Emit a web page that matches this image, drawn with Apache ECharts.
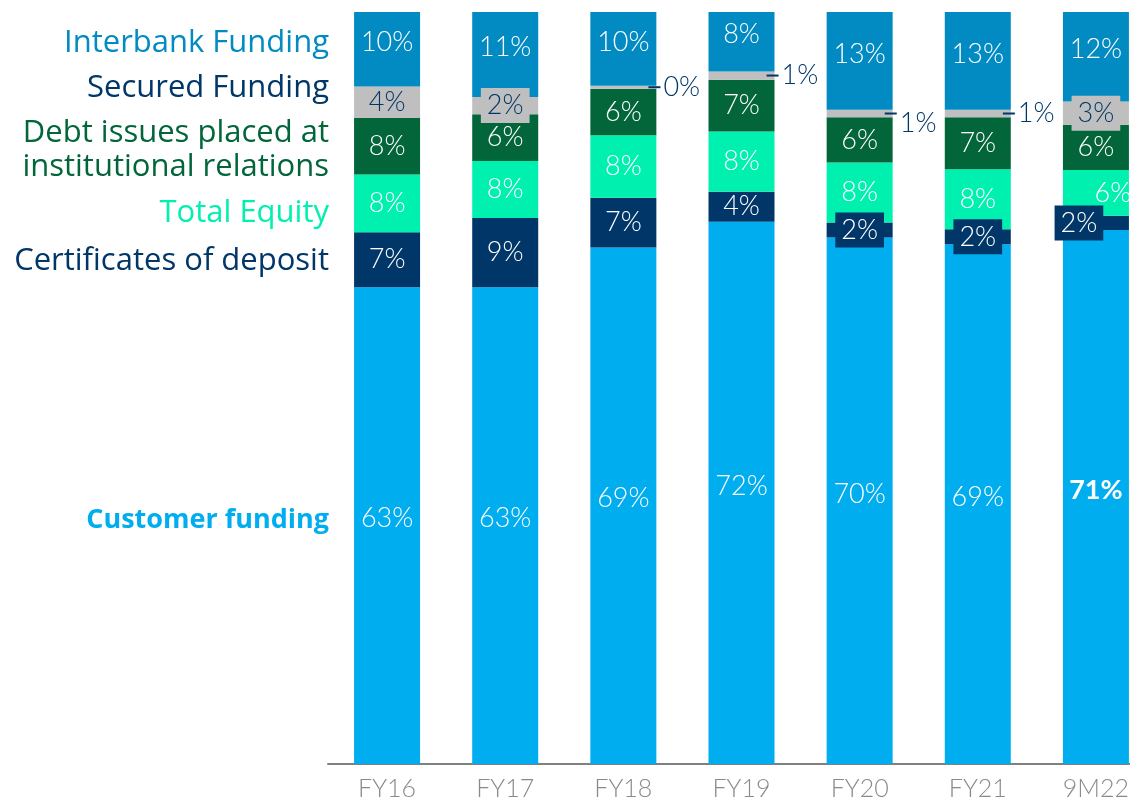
<!DOCTYPE html>
<html>
<head>
<meta charset="utf-8">
<title>Funding structure</title>
<script src="https://cdn.jsdelivr.net/npm/echarts@6/dist/echarts.min.js"></script>
<style>
  html, body { margin: 0; padding: 0; background: #ffffff; overflow: hidden; }
  /* the last column runs past the right edge of the page */
  #chart { width: 1155px; height: 801px; }
</style>
</head>
<body>
<div id="chart"></div>
<script>
// Funding mix by period, share of total (%)
const periods = ['FY16', 'FY17', 'FY18', 'FY19', 'FY20', 'FY21', '9M22'];

const customerFunding = [63.4, 63.4, 68.7, 72.1, 70.0, 69.1, 71.0];
const certificatesOfDeposit = [7.3, 9.2, 6.6, 4.0, 2.0, 2.0, 1.9];
const totalEquity = [7.7, 7.6, 8.3, 8.0, 8.0, 8.0, 6.1];
const debtIssues = [7.5, 6.2, 6.2, 6.9, 6.0, 6.9, 6.0];
const securedFunding = [4.2, 2.3, 0.4, 1.1, 1.0, 1.0, 3.1];
const interbankFunding = [9.9, 11.3, 9.8, 7.9, 13.0, 13.0, 11.9];

const seriesNames = [
  'Customer funding',
  'Certificates of deposit',
  'Total Equity',
  'Debt issues placed at\ninstitutional relations',
  'Secured Funding',
  'Interbank Funding'
];

const C_CUSTOMER = '#00adef';
const C_CD = '#003768';
const C_EQUITY = '#00f0b0';
const C_DEBT = '#03663a';
const C_SECURED = '#bfbfbf';
const C_INTERBANK = '#018bc2';

const FONT = 'Lato, "Noto Sans", sans-serif';
const SIDE_FONT = '"Open Sans", "Noto Sans", sans-serif';
const LABEL_SIZE = 27;

const pct = v => Math.round(v) + '%';

function baseLabel(color, extra) {
  return Object.assign({
    show: true,
    position: 'inside',
    color: color,
    fontFamily: FONT,
    fontWeight: 300,
    fontSize: LABEL_SIZE,
    formatter: p => pct(p.value)
  }, extra || {});
}

// Per-bar label overrides (index -> label options)
function withLabels(values, overrides) {
  return values.map((v, i) => overrides[i] ? { value: v, label: overrides[i] } : v);
}

const boxPad = [5, 6, 3, 6];

// Small segments: value placed beside the bar behind a short leader dash
function outsideDash(dy) {
  return {
    position: ['88%', '50%'],
    align: 'left',
    verticalAlign: 'middle',
    formatter: p => '{d|}{v|' + pct(p.value) + '}',
    rich: {
      d: { width: 12, height: 2, backgroundColor: C_CD },
      v: {
        color: C_CD, fontFamily: FONT, fontWeight: 300, fontSize: LABEL_SIZE,
        padding: [dy, 0, 0, 3]
      }
    }
  };
}

const series = [
  {
    name: seriesNames[0],
    color: C_CUSTOMER,
    data: withLabels(customerFunding, {
      6: { fontWeight: 'bold' }
    }),
    label: baseLabel('#ffffff', { offset: [0, -7] })
  },
  {
    name: seriesNames[1],
    color: C_CD,
    data: withLabels(certificatesOfDeposit, {
      4: { backgroundColor: C_CD, padding: boxPad },
      5: { backgroundColor: C_CD, padding: boxPad },
      6: { backgroundColor: C_CD, padding: boxPad, offset: [-17, 0] }
    }),
    label: baseLabel('#ffffff')
  },
  {
    name: seriesNames[2],
    color: C_EQUITY,
    data: withLabels(totalEquity, {
      6: { offset: [17, 0] }
    }),
    label: baseLabel('#ffffff')
  },
  {
    name: seriesNames[3],
    color: C_DEBT,
    data: debtIssues,
    label: baseLabel('#ffffff')
  },
  {
    name: seriesNames[4],
    color: C_SECURED,
    data: withLabels(securedFunding, {
      1: { backgroundColor: C_SECURED, padding: boxPad },
      2: outsideDash(0),
      3: outsideDash(0),
      4: outsideDash(20),
      5: outsideDash(0),
      6: { backgroundColor: C_SECURED, padding: boxPad }
    }),
    label: baseLabel(C_CD)
  },
  {
    name: seriesNames[5],
    color: C_INTERBANK,
    data: interbankFunding,
    label: baseLabel('#ffffff', { offset: [0, -7] })
  }
].map(s => Object.assign({
  type: 'bar',
  stack: 'total',
  barWidth: 66,
  itemStyle: { color: s.color },
  emphasis: { disabled: true },
  animation: false
}, s));

// Series names listed at the left, in the stack's own colours
const sideLabels = [
  { text: seriesNames[5], y: 43, color: C_INTERBANK, bold: false },
  { text: seriesNames[4], y: 88, color: C_CD, bold: false },
  { text: seriesNames[3], y: 150, color: C_DEBT, bold: false },
  { text: seriesNames[2], y: 213, color: C_EQUITY, bold: false },
  { text: seriesNames[1], y: 261, color: C_CD, bold: false },
  { text: seriesNames[0], y: 520, color: C_CUSTOMER, bold: true }
];

const chart = echarts.init(document.getElementById('chart'), null, { renderer: 'canvas' });

chart.setOption({
  backgroundColor: '#ffffff',
  animation: false,
  grid: { left: 328, top: 12, right: 0, bottom: 35, containLabel: false },
  xAxis: {
    type: 'category',
    data: periods,
    axisLine: { lineStyle: { color: '#808080', width: 2 } },
    axisTick: { show: false },
    axisLabel: {
      color: '#8a8a8a',
      fontFamily: FONT,
      fontWeight: 300,
      fontSize: 25,
      margin: 12
    }
  },
  yAxis: {
    type: 'value',
    min: 0,
    max: 100,
    show: false,
    splitLine: { show: false }
  },
  series: series,
  graphic: sideLabels.map(l => ({
    type: 'text',
    x: 329,
    y: l.y,
    style: {
      text: l.text,
      align: 'right',
      verticalAlign: 'middle',
      fill: l.color,
      font: (l.bold ? 'bold 27px ' : '31px ') + SIDE_FONT,
      lineHeight: 34
    }
  }))
});
</script>
</body>
</html>
